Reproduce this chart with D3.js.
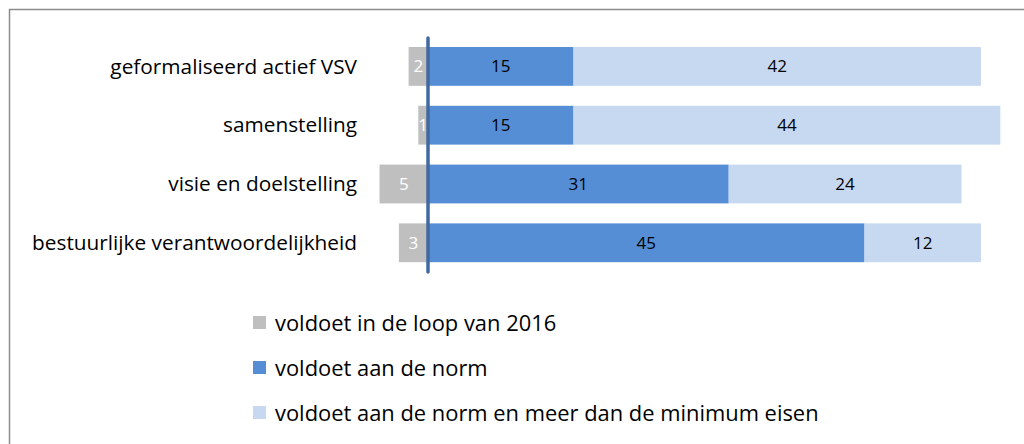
<!DOCTYPE html>
<html>
<head>
<meta charset="utf-8">
<script src="https://cdn.jsdelivr.net/npm/d3@7"></script>
<style>
  body { margin: 0; background: #fff; }
  svg text { font-family: "Open Sans", "Noto Sans", sans-serif; }
</style>
</head>
<body>
<div id="chart"></div>
<script>
// Data
const categories = ["geformaliseerd actief VSV", "samenstelling", "visie en doelstelling", "bestuurlijke verantwoordelijkheid"];
const inLoop = [2, 1, 5, 3];        // voldoet in de loop van 2016 (left of zero)
const aanNorm = [15, 15, 31, 45];   // voldoet aan de norm
const meerDan = [42, 44, 24, 12];   // voldoet aan de norm en meer dan de minimum eisen
const seriesNames = ["voldoet in de loop van 2016", "voldoet aan de norm", "voldoet aan de norm en meer dan de minimum eisen"];
const colors = ["#bfbfbf", "#558ed5", "#c6d9f1"];

const W = 1024, H = 444;
const svg = d3.select("#chart").append("svg")
    .attr("width", W)
    .attr("height", H);

// border of the chart area
svg.append("rect")
    .attr("x", 9.5).attr("y", 9.5)
    .attr("width", W + 20).attr("height", H + 20)
    .attr("fill", "none")
    .attr("stroke", "#8c8c8c")
    .attr("stroke-width", 1.5);

// scales
const x = d3.scaleLinear()
    .domain([0, 59])
    .range([428, 428 + 59 * 9.7]);

const y = d3.scaleBand()
    .domain(categories)
    .range([32.9, 276.3])
    .paddingInner(0.34)
    .paddingOuter(0.24);

// build rows
const rows = categories.map((c, i) => ({
    cat: c,
    segs: [
        {v: inLoop[i], x0: -inLoop[i], x1: 0, k: 0},
        {v: aanNorm[i], x0: 0, x1: aanNorm[i], k: 1},
        {v: meerDan[i], x0: aanNorm[i], x1: aanNorm[i] + meerDan[i], k: 2}
    ]
}));

const g = svg.selectAll(".row")
    .data(rows)
    .enter()
    .append("g")
    .attr("class", "row")
    .attr("transform", d => `translate(0,${y(d.cat)})`);

g.selectAll("rect")
    .data(d => d.segs)
    .enter()
    .append("rect")
    .attr("x", d => x(d.x0))
    .attr("width", d => x(d.x1) - x(d.x0))
    .attr("y", 0)
    .attr("height", y.bandwidth())
    .attr("fill", d => colors[d.k]);

g.selectAll("text.val")
    .data(d => d.segs)
    .enter()
    .append("text")
    .attr("class", "val")
    .attr("x", d => (x(d.x0) + x(d.x1)) / 2)
    .attr("y", y.bandwidth() / 2)
    .attr("dy", "0.35em")
    .attr("text-anchor", "middle")
    .style("font-size", "17px")
    .attr("fill", d => d.k === 0 ? "#ffffff" : "#000000")
    .text(d => d.v);

// category labels
svg.selectAll(".cat")
    .data(categories)
    .enter()
    .append("text")
    .attr("class", "cat")
    .attr("x", 357)
    .attr("y", d => y(d) + y.bandwidth() / 2)
    .attr("dy", "0.35em")
    .attr("text-anchor", "end")
    .style("font-size", "20.8px")
    .attr("fill", "#000")
    .text(d => d);

// zero line
svg.append("line")
    .attr("x1", x(0)).attr("x2", x(0))
    .attr("y1", 38).attr("y2", 272)
    .attr("stroke", "#41699f")
    .attr("stroke-width", 3.5)
    .attr("stroke-linecap", "round");

// legend
const legend = svg.selectAll(".legend")
    .data(seriesNames)
    .enter()
    .append("g")
    .attr("class", "legend")
    .attr("transform", (d, i) => `translate(253,${316 + i * 45})`);

legend.append("rect")
    .attr("width", 13).attr("height", 13)
    .attr("fill", (d, i) => colors[i]);

legend.append("text")
    .attr("x", 22)
    .attr("y", 7)
    .attr("dy", "0.35em")
    .style("font-size", "21.9px")
    .attr("fill", "#000")
    .text(d => d);
</script>
</body>
</html>
